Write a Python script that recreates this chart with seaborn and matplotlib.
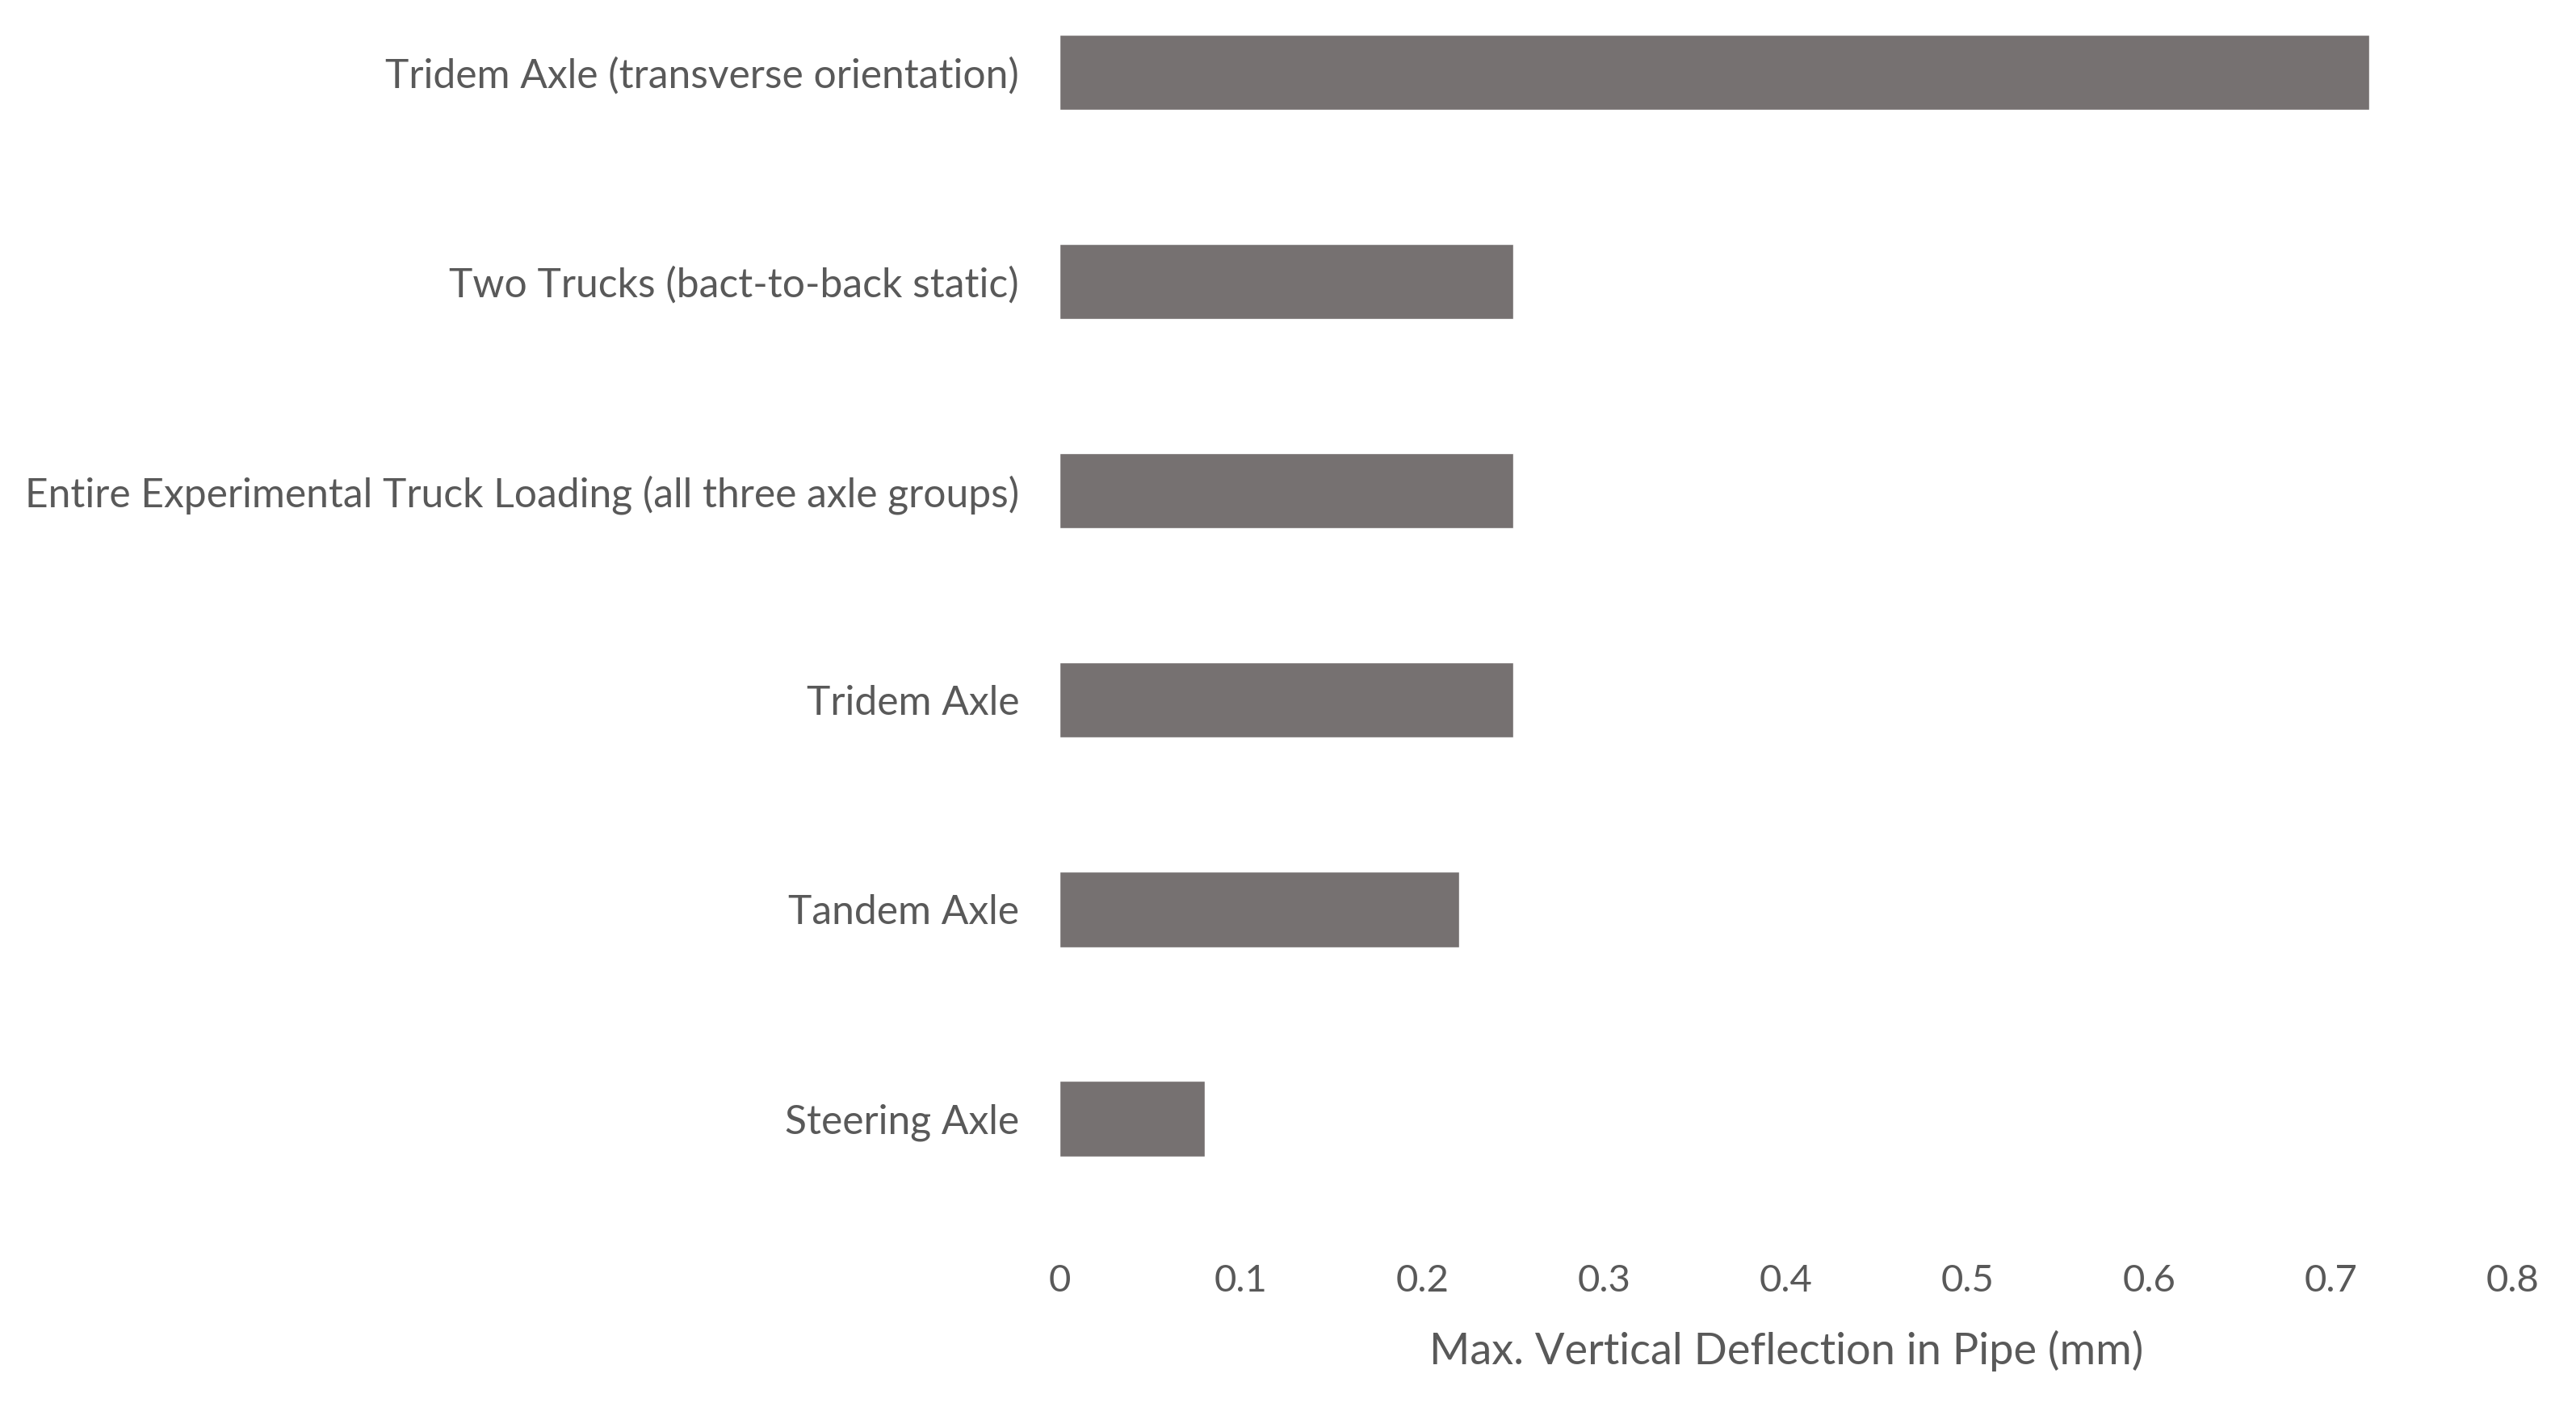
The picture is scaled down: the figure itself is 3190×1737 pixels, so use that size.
import matplotlib
matplotlib.use("Agg")
import matplotlib.pyplot as plt
import seaborn as sns
import pandas as pd

categories = [
    "Tridem Axle (transverse orientation)",
    "Two Trucks (bact-to-back static)",
    "Entire Experimental Truck Loading (all three axle groups)",
    "Tridem Axle",
    "Tandem Axle",
    "Steering Axle",
]
deflection_mm = [0.721, 0.25, 0.25, 0.25, 0.22, 0.08]
x_ticks = [0, 0.1, 0.2, 0.3, 0.4, 0.5, 0.6, 0.7, 0.8]
x_tick_labels = ["0", "0.1", "0.2", "0.3", "0.4", "0.5", "0.6", "0.7", "0.8"]
x_label = "Max. Vertical Deflection in Pipe (mm)"

df = pd.DataFrame({"case": categories, "defl": deflection_mm})

sns.set_theme(style="white")
plt.rcParams["font.family"] = ["Lato", "DejaVu Sans"]

TEXT = "#595959"
BAR = "#767171"

fig = plt.figure(figsize=(31.9, 17.37), dpi=100)
ax = fig.add_axes([0.4113, 0.128, 0.5642, 0.872])

sns.barplot(data=df, x="defl", y="case", orient="h", color=BAR,
            width=0.36, saturation=1, ax=ax, order=categories)

ax.set_xlim(0, 0.8)
ax.set_ylim(5.5, -0.345)
ax.set_xticks(x_ticks)
ax.set_xticklabels(x_tick_labels)
for s in ax.spines.values():
    s.set_visible(False)
ax.tick_params(axis="y", length=0, pad=36, labelsize=35.8, labelcolor=TEXT)
ax.tick_params(axis="x", length=0, pad=36, labelsize=34, labelcolor=TEXT)
ax.set_ylabel("")
ax.set_xlabel(x_label, fontsize=39, color=TEXT, labelpad=29)
ax.grid(False)

fig.savefig("out.png", dpi=100, facecolor="white")
